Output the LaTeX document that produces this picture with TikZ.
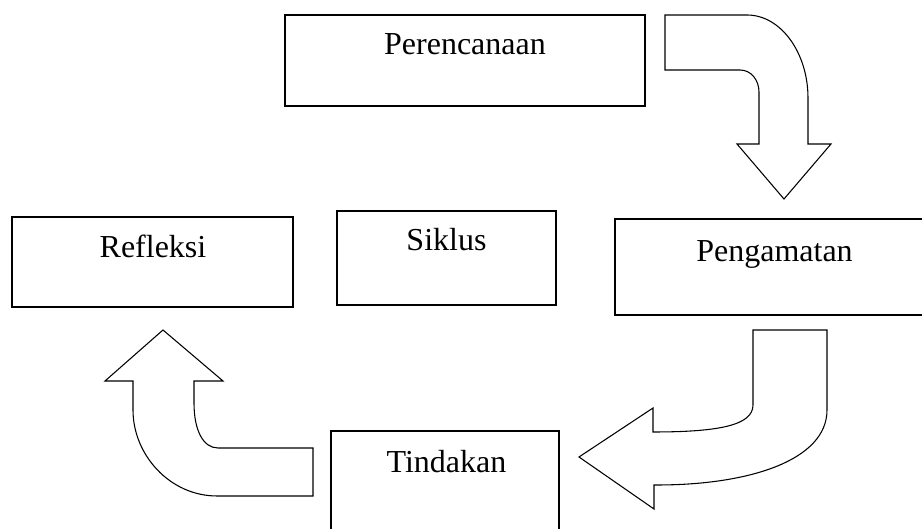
\documentclass[tikz,border=0pt]{standalone}
\usepackage{fontspec}
\setmainfont{Liberation Serif}
\usepackage{tikz}
\tikzstyle{box}=[draw, line width=0.55pt, inner sep=0pt]
\tikzstyle{word}=[anchor=base, inner sep=0pt, font=\fontsize{12}{14}\selectfont]
\tikzstyle{turnarrow}=[draw, line width=0.4pt, line join=miter]

\begin{document}
\begin{tikzpicture}[x=0.375pt, y=-0.375pt]
                \clip (0,0) rectangle (922,529);
                \node[box, minimum width=135pt, minimum height=34.125pt] (p) at (465, 60.5) {};
                \node[box, minimum width=105.375pt, minimum height=33.75pt] (r) at (152.5, 262) {};
                \node[box, minimum width=82.125pt, minimum height=35.25pt] (s) at (446.5, 258) {};
                \node[box, minimum width=119.625pt, minimum height=36pt] (g) at (774.5, 267) {};
                \node[box, minimum width=85.5pt, minimum height=37.5pt] (t) at (445, 481) {};
                \node[word] (pt) at (465, 55) {Perencanaan};
                \node[word] (rt) at (153, 258) {Refleksi};
                \node[word] (st) at (446.5, 251) {Siklus};
                \node[word] (gt) at (774.5, 262) {Pengamatan};
                \node[word] (tt) at (446.5, 473) {Tindakan};
                % Perencanaan -> Pengamatan
                \path[turnarrow] (665,15) -- (747,15) .. controls (781,15) and (808,53) .. (808,98)
                    -- (808,144) -- (831,144) -- (784,199) -- (737,144) -- (759,144)
                    -- (759,92) .. controls (759,80) and (751,70) .. (740,70) -- (665,70) -- cycle;
                % Pengamatan -> Tindakan
                \path[turnarrow] (753,330) -- (827,330) -- (827,410) .. controls (827,460) and (750,485) .. (657,485)
                    -- (654,485) -- (654,509) -- (579,457) -- (653,408) -- (653,432)
                    .. controls (720,432) and (753,425) .. (753,405) -- cycle;
                % Tindakan -> Refleksi
                \path[turnarrow] (313,448) -- (218,448) .. controls (203,448) and (194,430) .. (194,403)
                    -- (194,381) -- (223,381) -- (163,330) -- (105,381) -- (133,381)
                    -- (133,410) .. controls (133,455) and (170,496) .. (217,496) -- (313,496) -- cycle;
            \end{tikzpicture}
\end{document}
